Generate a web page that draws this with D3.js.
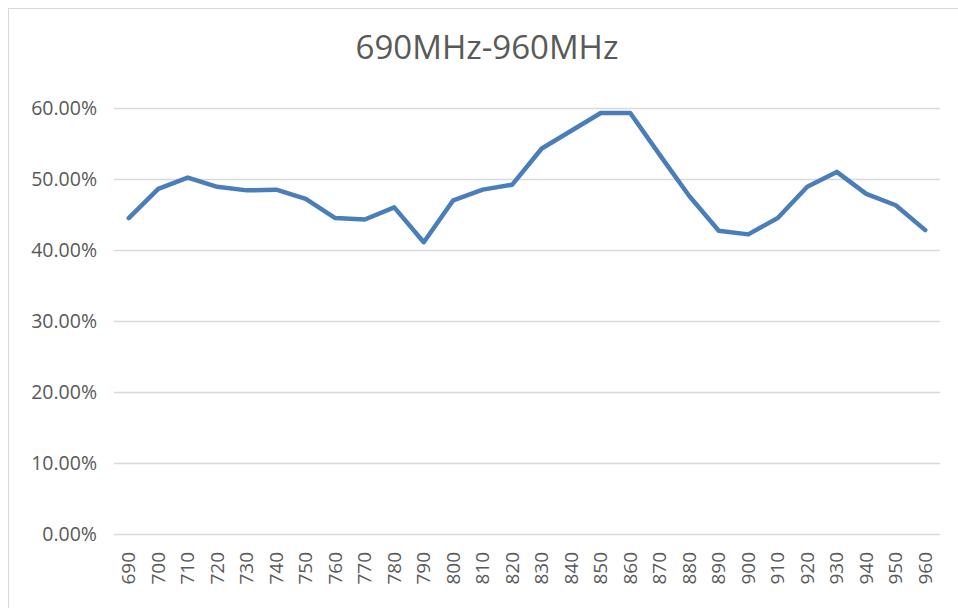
<!DOCTYPE html>
<html>
<head>
<meta charset="utf-8">
<script src="https://cdn.jsdelivr.net/npm/d3@7"></script>
<style>
  html, body { margin: 0; padding: 0; background: #ffffff; }
  svg { display: block; }
</style>
</head>
<body>
<svg id="chart" width="958" height="608"></svg>
<script>
const title = "690MHz-960MHz";
const categories = ["690","700","710","720","730","740","750","760","770","780","790","800","810","820","830","840","850","860","870","880","890","900","910","920","930","940","950","960"];
const values = [44.5,48.6,50.2,48.9,48.4,48.5,47.2,44.5,44.3,46.0,41.1,47.0,48.5,49.2,54.3,56.8,59.3,59.3,53.4,47.6,42.7,42.2,44.5,48.9,51.0,47.9,46.3,42.8];
const yTicks = [0,10,20,30,40,50,60];

(function () {
const svg = d3.select("#chart");
const W = 958, H = 608;
const mLeft = 114, mRight = 940, mTop = 108, mBottom = 534;

svg.append("rect").attr("x", 8.5).attr("y", 8.5).attr("width", W + 10).attr("height", H + 10)
  .attr("fill", "#fff").attr("stroke", "#d9d9d9").attr("stroke-width", 1);

const x = d3.scaleBand().domain(categories).range([mLeft, mRight]);
const y = d3.scaleLinear().domain([0, 60]).range([mBottom, mTop]);

svg.append("text").attr("x", 487).attr("y", 59).attr("text-anchor", "middle")
  .attr("font-family", "Open Sans").attr("font-size", 33).attr("fill", "#595959").text(title);

const yAxis = d3.axisLeft(y).tickValues(yTicks).tickSize(-(mRight - mLeft)).tickFormat(d => d.toFixed(2) + "%");
const gy = svg.append("g").attr("transform", `translate(${mLeft},0)`).call(yAxis);
gy.select(".domain").remove();
gy.selectAll(".tick line").attr("stroke", "#d9d9d9").attr("stroke-width", 1.5).attr("x1", 0).attr("x2", mRight - mLeft);
gy.selectAll(".tick text").attr("x", -17).attr("dy", "0.34em")
  .attr("font-family", "Open Sans").attr("font-size", 19.5).attr("fill", "#595959");

const xAxis = d3.axisBottom(x).tickSize(0);
const gx = svg.append("g").attr("transform", `translate(0,${mBottom})`).call(xAxis);
gx.select(".domain").remove();
gx.selectAll(".tick text")
  .attr("transform", "rotate(-90)")
  .attr("x", -18).attr("y", 0).attr("dy", "0.35em")
  .attr("text-anchor", "end")
  .attr("font-family", "Open Sans").attr("font-size", 19).attr("fill", "#595959");

const line = d3.line()
  .x((d, i) => x(categories[i]) + x.bandwidth() / 2)
  .y(d => y(d));

svg.append("path").datum(values).attr("d", line)
  .attr("fill", "none").attr("stroke", "#4a7ebb").attr("stroke-width", 4.5)
  .attr("stroke-linejoin", "round").attr("stroke-linecap", "round");
})();
</script>
</body>
</html>
